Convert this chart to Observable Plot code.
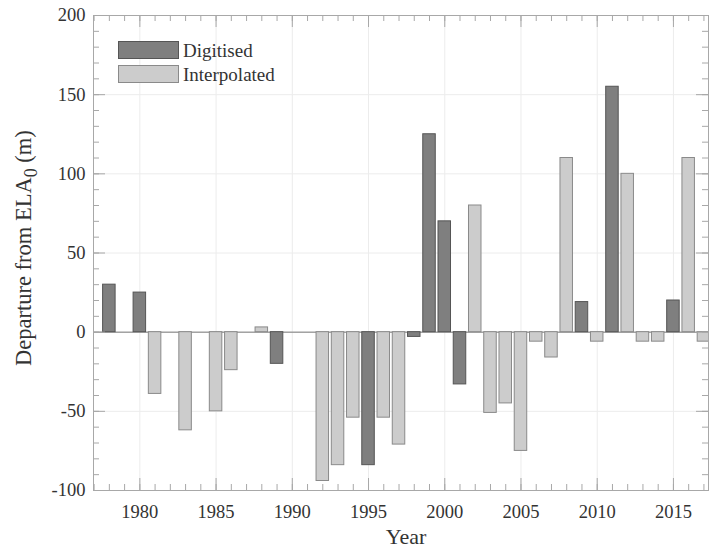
<!DOCTYPE html>
<html>
<head>
<meta charset="utf-8">
<script src="https://cdn.jsdelivr.net/npm/d3@7"></script>
<script src="https://cdn.jsdelivr.net/npm/@observablehq/plot@0.6"></script>
<style>
  html, body { margin: 0; padding: 0; background: #fff; }
  #chart { position: relative; width: 710px; height: 550px; }
</style>
</head>
<body>
<div id="chart"></div>
<script>
// ---- data ----
const years = [1978,1980,1981,1983,1985,1986,1988,1989,1992,1993,1994,1995,1996,1997,1998,1999,2000,2001,2002,2003,2004,2005,2006,2007,2008,2009,2010,2011,2012,2013,2014,2015,2016,2017];
const departures = [30,25,-39,-62,-50,-24,3,-20,-94,-84,-54,-84,-54,-71,-3,125,70,-33,80,-51,-45,-75,-6,-16,110,19,-6,155,100,-6,-6,20,110,-6];
const kinds = ["D","D","I","I","I","I","I","D","I","I","I","D","I","I","D","D","D","D","I","I","I","I","I","I","I","D","I","D","I","I","I","D","I","I"];
const seriesNames = {D: "Digitised", I: "Interpolated"};
const xMajorTicks = [1980,1985,1990,1995,2000,2005,2010,2015];
const yMajorTicks = [-100,-50,0,50,100,150,200];
const xMinorTicks = d3.range(1977, 2018);
const yMinorTicks = d3.range(-100, 201, 10);
const xDomain = [1976.96, 2017.3];
const yDomain = [-100, 200];
const yLabelMain = "Departure from ELA";
const yLabelSub = "0";
const yLabelTail = " (m)";
const xLabel = "Year";

const data = years.map((y, i) => ({year: y, value: departures[i], kind: kinds[i]}));

// ---- layout / style ----
const W = 710, H = 550;
const mL = 93, mR = 2, mT = 15, mB = 60;
const pw = W - mL - mR, ph = H - mT - mB;
const fill = {D: "#7f7f7f", I: "#cccccc"};
const edge = {D: "#555555", I: "#8a8a8a"};
const axisColor = "#a8a8a8";
const gridColor = "#ececec";
const font = "Liberation Serif";
const half = 0.41;

const plot = Plot.plot({
  width: W, height: H,
  marginLeft: mL, marginRight: mR, marginTop: mT, marginBottom: mB,
  style: {fontFamily: font, background: "#fff", color: "#333"},
  x: {domain: xDomain},
  y: {domain: yDomain},
  marks: [
    Plot.gridX(xMajorTicks, {stroke: gridColor, strokeOpacity: 1}),
    Plot.gridY(yMajorTicks, {stroke: gridColor, strokeOpacity: 1}),
    Plot.ruleY([0], {stroke: "#7a7a7a", strokeWidth: 1}),
    Plot.rectY(data, {
      x1: d => d.year - half, x2: d => d.year + half, y1: 0, y2: "value",
      fill: d => fill[d.kind], stroke: d => edge[d.kind], strokeWidth: 1, clip: true
    }),
    // inward ticks: left / right
    Plot.tickY(yMinorTicks, {y: d => d, stroke: axisColor, insetRight: pw - 6}),
    Plot.tickY(yMajorTicks, {y: d => d, stroke: axisColor, insetRight: pw - 12}),
    Plot.tickY(yMinorTicks, {y: d => d, stroke: axisColor, insetLeft: pw - 6}),
    Plot.tickY(yMajorTicks, {y: d => d, stroke: axisColor, insetLeft: pw - 12}),
    // inward ticks: bottom / top
    Plot.tickX(xMinorTicks, {x: d => d, stroke: axisColor, insetTop: ph - 6}),
    Plot.tickX(xMajorTicks, {x: d => d, stroke: axisColor, insetTop: ph - 12}),
    Plot.tickX(xMinorTicks, {x: d => d, stroke: axisColor, insetBottom: ph - 6}),
    Plot.tickX(xMajorTicks, {x: d => d, stroke: axisColor, insetBottom: ph - 12}),
    Plot.frame({stroke: axisColor}),
    Plot.axisX(xMajorTicks, {tickSize: 0, tickPadding: 14, tickFormat: d => String(d), fontSize: 18.5, label: null, fill: "#333"}),
    Plot.axisY(yMajorTicks, {tickSize: 0, tickPadding: 8, tickFormat: d => String(d), fontSize: 18.5, label: null, fill: "#333"})
  ]
});

document.getElementById("chart").appendChild(plot);

// ---- axis titles and legend (real text) ----
const svg = d3.select(plot);
svg.append("text")
  .attr("x", 406).attr("y", 544)
  .attr("text-anchor", "middle")
  .attr("font-family", font).attr("font-size", 22).attr("fill", "#333")
  .text(xLabel);

const yl = svg.append("text")
  .attr("transform", "translate(31,366) rotate(-90)")
  .attr("text-anchor", "start")
  .attr("font-family", font).attr("font-size", 22.5).attr("fill", "#333");
yl.append("tspan").text(yLabelMain);
yl.append("tspan").attr("font-size", 18).attr("dy", 6).text(yLabelSub);
yl.append("tspan").attr("dy", -6).text(yLabelTail);

const legendItems = ["D", "I"];
const lg = svg.append("g").attr("text-anchor", "start");
legendItems.forEach((k, i) => {
  const y0 = 41 + i * 24;
  lg.append("rect").attr("x", 118.5).attr("y", y0 + 0.5).attr("width", 60).attr("height", 17)
    .attr("fill", fill[k]).attr("stroke", edge[k]);
  lg.append("text").attr("x", 183).attr("y", y0 + 16)
    .attr("text-anchor", "start")
    .attr("font-family", font).attr("font-size", 19).attr("fill", "#333")
    .text(seriesNames[k]);
});
</script>
</body>
</html>
